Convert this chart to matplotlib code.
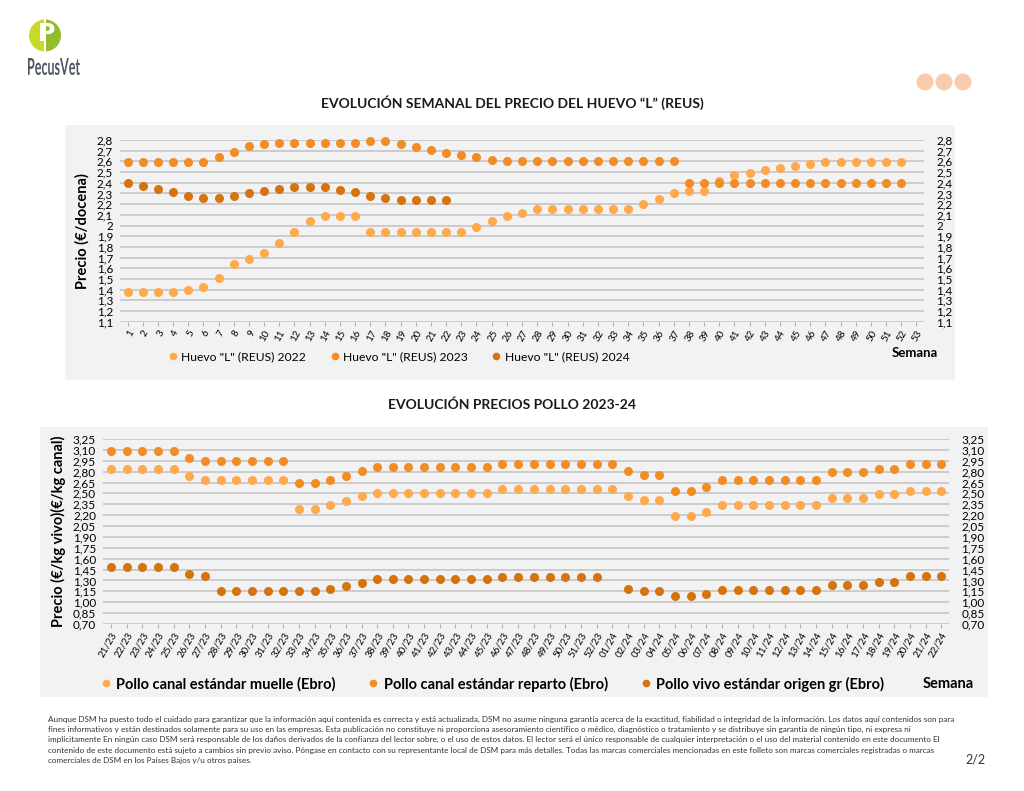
import numpy as np
import matplotlib.pyplot as plt
from matplotlib.patches import Rectangle, Wedge, Circle, PathPatch
from matplotlib.textpath import TextPath
from matplotlib.font_manager import FontProperties
from matplotlib.transforms import Affine2D

plt.rcParams['font.family'] = ['Lato', 'DejaVu Sans']

# ---- datos: huevo "L" (REUS), semanas 1-53
semanas = [str(k) for k in range(1, 54)]

huevo_2022 = [1.38, 1.38, 1.38, 1.38, 1.40, 1.42, 1.51, 1.64, 1.69, 1.74,
              1.84, 1.94, 2.04, 2.09, 2.09, 2.09, 1.94, 1.94, 1.94, 1.94,
              1.94, 1.94, 1.94, 1.99, 2.04, 2.09, 2.12, 2.15, 2.15, 2.15,
              2.15, 2.15, 2.15, 2.15, 2.20, 2.25, 2.30, 2.32, 2.32, 2.42,
              2.47, 2.49, 2.52, 2.54, 2.56, 2.58, 2.59, 2.59, 2.59, 2.59,
              2.59, 2.59]
huevo_2023 = [2.59, 2.59, 2.59, 2.59, 2.59, 2.59, 2.64, 2.69, 2.74, 2.76,
              2.77, 2.77, 2.77, 2.77, 2.77, 2.77, 2.79, 2.79, 2.76, 2.73,
              2.71, 2.68, 2.66, 2.64, 2.61, 2.60, 2.60, 2.60, 2.60, 2.60,
              2.60, 2.60, 2.60, 2.60, 2.60, 2.60, 2.60, 2.40, 2.40, 2.40,
              2.40, 2.40, 2.40, 2.40, 2.40, 2.40, 2.40, 2.40, 2.40, 2.40,
              2.40, 2.40]
huevo_2024 = [2.40, 2.37, 2.34, 2.31, 2.28, 2.26, 2.26, 2.28, 2.30, 2.32,
              2.34, 2.36, 2.36, 2.36, 2.33, 2.31, 2.28, 2.26, 2.24, 2.24,
              2.24, 2.24]
huevo_nombres = ['Huevo "L" (REUS) 2022', 'Huevo "L" (REUS) 2023', 'Huevo "L" (REUS) 2024']

# ---- datos: pollo 2023-24
semanas_pollo = ['%02d/23' % k for k in range(21, 53)] + ['%02d/24' % k for k in range(1, 23)]

muelle = [2.84, 2.84, 2.84, 2.84, 2.84, 2.74, 2.69, 2.69, 2.69, 2.69,
          2.69, 2.69, 2.29, 2.29, 2.34, 2.39, 2.46, 2.51, 2.51, 2.51,
          2.51, 2.51, 2.51, 2.51, 2.51, 2.56, 2.56, 2.56, 2.56, 2.56,
          2.56, 2.56,
          2.56, 2.46, 2.41, 2.41, 2.19, 2.19, 2.24, 2.34, 2.34, 2.34,
          2.34, 2.34, 2.34, 2.34, 2.44, 2.44, 2.44, 2.49, 2.49, 2.54,
          2.54, 2.54]
reparto = [3.09, 3.09, 3.09, 3.09, 3.09, 2.99, 2.94, 2.94, 2.94, 2.94,
           2.94, 2.94, 2.64, 2.64, 2.69, 2.74, 2.81, 2.86, 2.86, 2.86,
           2.86, 2.86, 2.86, 2.86, 2.86, 2.91, 2.91, 2.91, 2.91, 2.91,
           2.91, 2.91,
           2.91, 2.81, 2.76, 2.76, 2.54, 2.54, 2.59, 2.69, 2.69, 2.69,
           2.69, 2.69, 2.69, 2.69, 2.79, 2.79, 2.79, 2.84, 2.84, 2.90,
           2.90, 2.90]
vivo = [1.49, 1.49, 1.49, 1.49, 1.49, 1.39, 1.36, 1.15, 1.15, 1.15,
        1.15, 1.15, 1.15, 1.15, 1.18, 1.22, 1.27, 1.32, 1.32, 1.32,
        1.32, 1.32, 1.32, 1.32, 1.32, 1.35, 1.35, 1.35, 1.35, 1.35,
        1.35, 1.35,
        np.nan, 1.18, 1.15, 1.15, 1.09, 1.09, 1.12, 1.17, 1.17, 1.17,
        1.17, 1.17, 1.17, 1.17, 1.24, 1.24, 1.24, 1.28, 1.28, 1.36,
        1.36, 1.36]
pollo_nombres = ['Pollo canal estándar muelle (Ebro)',
                 'Pollo canal estándar reparto (Ebro)',
                 'Pollo vivo estándar origen gr (Ebro)']

colores = ['#FFA94D', '#F28C24', '#D4740F']
gris_rejilla = '#C8C8C8'

W, H = 1024, 791
fig = plt.figure(figsize=(W / 100, H / 100), dpi=100)

# capa de fondo en pixeles (paneles, logo, textos)
bg = fig.add_axes([0, 0, 1, 1], zorder=0)
bg.set_xlim(0, W)
bg.set_ylim(H, 0)
bg.axis('off')

bg.add_patch(Rectangle((65, 125), 890, 255, color='#F2F2F2', lw=0))
bg.add_patch(Rectangle((40, 427), 948, 270, color='#F2F2F2', lw=0))

# logo
bg.add_patch(Wedge((45, 35.5), 16, 90, 270, color='#C8D82C', lw=0))
bg.add_patch(Wedge((45, 35.5), 16, -90, 90, color='#93BD2A', lw=0))
bg.add_patch(Rectangle((44, 18), 2, 36, color='white', lw=0))
bg.text(46.5, 34, 'P', color='white', fontsize=17, fontweight='bold',
        ha='center', va='center', family=['DejaVu Sans'])

# "PecusVet" estrechado para encajar en su caja
tp = TextPath((0, 0), 'PecusVet', size=10, prop=FontProperties(family='Lato', weight='bold'))
ext = tp.get_extents()
sx = 52 / ext.width
sy = 17 / ext.height
tr = Affine2D().translate(-ext.x0, -ext.y0).scale(sx, -sy).translate(28, 75) + bg.transData
bg.add_patch(PathPatch(tp, transform=tr, color='#4D5763', lw=0))

for cx in [925, 944, 963]:
    bg.add_patch(Circle((cx, 82), 8.5, color='#F8CBAD', lw=0))

bg.text(512, 103, 'EVOLUCIÓN SEMANAL DEL PRECIO DEL HUEVO “L” (REUS)',
        fontsize=10, fontweight='bold', ha='center', va='center', color='#1A1A1A')
bg.text(512, 405, 'EVOLUCIÓN PRECIOS POLLO 2023-24',
        fontsize=10, fontweight='bold', ha='center', va='center', color='#1A1A1A')

aviso = ("Aunque DSM ha puesto todo el cuidado para garantizar que la información aquí contenida es correcta y está actualizada, DSM no asume ninguna garantía acerca de la exactitud, fiabilidad o integridad de la información. Los datos aquí contenidos son para\n"
         "fines informativos y están destinados solamente para su uso en las empresas. Esta publicación no constituye ni proporciona asesoramiento científico o médico, diagnóstico o tratamiento y se distribuye sin garantía de ningún tipo, ni expresa ni\n"
         "implícitamente En ningún caso DSM será responsable de los daños derivados de la confianza del lector sobre, o el uso de estos datos. El lector será el único responsable de cualquier interpretación o el uso del material contenido en este documento El\n"
         "contenido de este documento está sujeto a cambios sin previo aviso. Póngase en contacto con su representante local de DSM para más detalles. Todas las marcas comerciales mencionadas en este folleto son marcas comerciales registradas o marcas\n"
         "comerciales de DSM en los Países Bajos y/u otros países.")
bg.text(48, 716, aviso, fontsize=5.85, ha='left', va='top', linespacing=1.52,
        color='#333333')
bg.text(965, 760, '2/2', fontsize=9, ha='left', va='center', color='#333333')


def coma(v, dec=None):
    if dec is None:
        s = ('%.1f' % v).rstrip('0').rstrip('.')
    else:
        s = '%.*f' % (dec, v)
    return s.replace('.', ',')


def px_axes(x0, x1, ytop, ybot):
    return fig.add_axes([x0 / W, 1 - ybot / H, (x1 - x0) / W, (ybot - ytop) / H], zorder=2)


def estilo(ax, ticks, etiquetas, n, xlabels, fs_y, fs_x):
    ax.set_facecolor('none')
    for s in ax.spines.values():
        s.set_visible(False)
    ax.set_xlim(-0.5, n - 0.5)
    ax.set_ylim(ticks[0], ticks[-1])
    ax.set_yticks(ticks)
    ax.set_yticklabels(etiquetas, fontsize=fs_y)
    ax.tick_params(axis='y', length=0, pad=5)
    ax.set_xticks(range(n))
    ax.set_xticklabels(xlabels, rotation=60, ha='right', rotation_mode='anchor', fontsize=fs_x)
    ax.tick_params(axis='x', length=3, color='#B0B0B0', pad=2)
    ax.grid(axis='y', color=gris_rejilla, lw=1.3)
    ax.set_axisbelow(True)
    der = ax.twinx()
    der.set_ylim(ax.get_ylim())
    der.set_yticks(ticks)
    der.set_yticklabels(etiquetas, fontsize=fs_y)
    der.tick_params(axis='y', length=0, pad=9)
    for s in der.spines.values():
        s.set_visible(False)
    return der


# ---- grafico 1: huevo
ax1 = px_axes(120, 924, 140, 321.7)
yt1 = np.round(np.arange(1.1, 2.801, 0.1), 2)
estilo(ax1, yt1, [coma(v) for v in yt1], len(semanas), semanas, 8.5, 7)
lineas1 = []
for serie, c, nom in zip([huevo_2022, huevo_2023, huevo_2024], colores, huevo_nombres):
    l, = ax1.plot(range(len(serie)), serie, 'o', color=c, ms=6.5, mew=0, clip_on=False, label=nom)
    lineas1.append(l)
ax1.set_ylabel('Precio (€/docena)', fontsize=10.5, fontweight='bold', labelpad=5)
ax1.legend(handles=lineas1, loc='center left', bbox_to_anchor=(168 / W, 1 - 357 / H),
           bbox_transform=fig.transFigure, ncol=3, frameon=False, fontsize=8.7,
           handlelength=0.8, handletextpad=0.3, columnspacing=1.95, borderpad=0,
           borderaxespad=0, markerscale=0.85)
bg.text(892, 353, 'Semana', fontsize=9.5, fontweight='bold', ha='left', va='center')

# ---- grafico 2: pollo
ax2 = px_axes(103, 949, 439, 624)
yt2 = np.round(np.arange(0.70, 3.251, 0.15), 2)
estilo(ax2, yt2, [coma(v, 2) for v in yt2], len(semanas_pollo), semanas_pollo, 8.5, 7)
lineas2 = []
for serie, c, nom in zip([muelle, reparto, vivo], colores, pollo_nombres):
    l, = ax2.plot(range(len(serie)), serie, 'o', color=c, ms=6.5, mew=0, clip_on=False, label=nom)
    lineas2.append(l)
ax2.set_ylabel('Precio (€/kg vivo)(€/kg canal)', fontsize=10.5, fontweight='bold', labelpad=5)
ax2.legend(handles=lineas2, loc='center left', bbox_to_anchor=(100 / W, 1 - 684 / H),
           bbox_transform=fig.transFigure, ncol=3, frameon=False,
           prop={'size': 10.5, 'weight': 'bold'},
           handlelength=0.8, handletextpad=0.3, columnspacing=2.2, borderpad=0,
           borderaxespad=0, markerscale=0.85)
bg.text(923, 684, 'Semana', fontsize=10.5, fontweight='bold', ha='left', va='center')

fig.savefig('out.png', dpi=100)
